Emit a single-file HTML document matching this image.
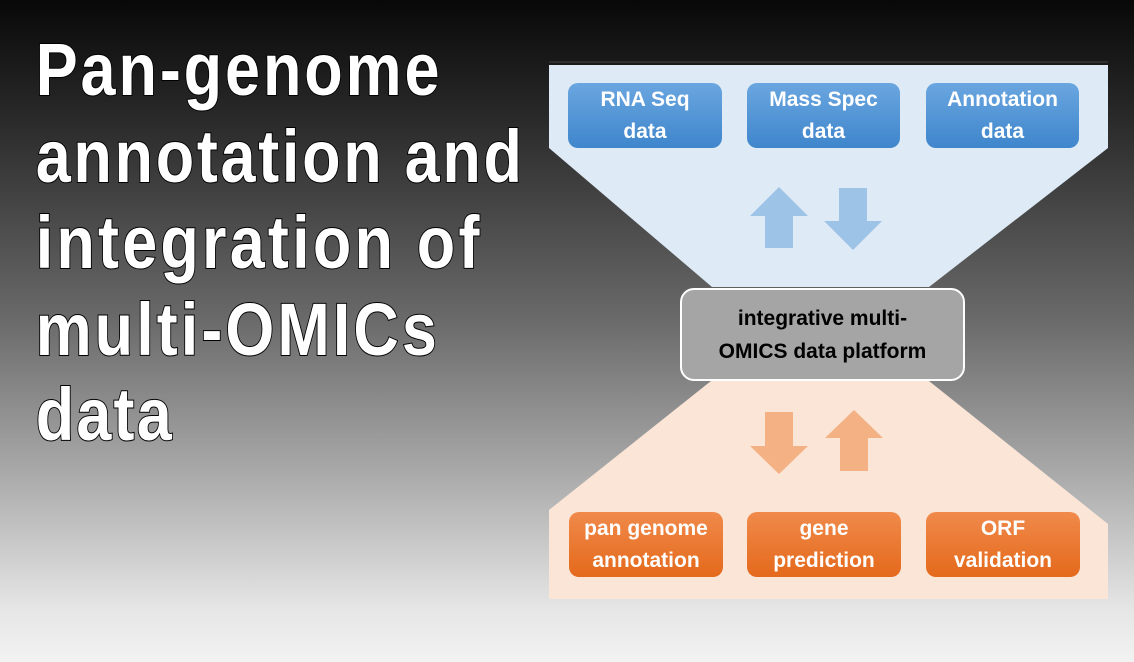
<!DOCTYPE html>
<html><head><meta charset="utf-8"><style>
html,body{margin:0;padding:0}
body{width:1134px;height:662px;overflow:hidden;position:relative;background:linear-gradient(to bottom,#080808 0px,#2a2a2a 120px,#6a6a6a 320px,#a8a8a8 470px,#e6e6e6 610px,#f2f2f2 662px);font-family:"Liberation Sans",sans-serif}
.b{position:absolute;border-radius:10px;color:#fff;font-weight:bold;font-size:21px;line-height:32px;text-align:center;display:flex;align-items:center;justify-content:center}
.bl{background:linear-gradient(#6aa6e0,#3f86cc)}
.or{background:linear-gradient(#f08a4b,#e4691b)}
</style></head><body>
<svg width="1134" height="662" style="position:absolute;left:0;top:0">
<line x1="549" y1="62" x2="1108" y2="62" stroke="#444" stroke-width="1"/>
<polygon points="549,65 1108,65 1108,148 929,287 712,287 549,148" fill="#deeaf6"/>
<polygon points="711,381 929,381 1108,524 1108,599 549,599 549,510" fill="#fbe5d7"/>
<polygon points="779,187 808,216 793,216 793,248 765,248 765,216 750,216" fill="#9dc3e6"/>
<polygon points="853,250 882,221 867,221 867,188 839,188 839,221 824,221" fill="#9dc3e6"/>
<polygon points="779,474 808,446 793,446 793,412 765,412 765,446 750,446" fill="#f4b183"/>
<polygon points="854,410 883,438 868,438 868,471 840,471 840,438 825,438" fill="#f4b183"/>
<g transform="scale(0.85,1)" font-family="'Liberation Sans',sans-serif" font-weight="bold" font-size="74" fill="#fff" stroke="#000" stroke-width="2" paint-order="stroke">
<text x="42" y="95" textLength="475" lengthAdjust="spacing">Pan-genome</text>
<text x="42" y="182" textLength="572" lengthAdjust="spacing">annotation and</text>
<text x="42" y="268" textLength="522" lengthAdjust="spacing">integration of</text>
<text x="42" y="355" textLength="472" lengthAdjust="spacing">multi-OMICs</text>
<text x="42" y="440" textLength="160" lengthAdjust="spacing">data</text>
</g>
</svg>
<div class="b bl" style="left:568px;top:83px;width:154px;height:65px">RNA Seq<br>data</div>
<div class="b bl" style="left:747px;top:83px;width:153px;height:65px">Mass Spec<br>data</div>
<div class="b bl" style="left:926px;top:83px;width:153px;height:65px">Annotation<br>data</div>
<div class="b" style="left:680px;top:288px;width:281px;height:89px;background:#a5a5a5;border:2px solid #fff;border-radius:14px;color:#000;font-size:21px;line-height:33px">integrative multi-<br>OMICS data platform</div>
<div class="b or" style="left:569px;top:512px;width:154px;height:65px">pan genome<br>annotation</div>
<div class="b or" style="left:747px;top:512px;width:154px;height:65px">gene<br>prediction</div>
<div class="b or" style="left:926px;top:512px;width:154px;height:65px">ORF<br>validation</div>
</body></html>
